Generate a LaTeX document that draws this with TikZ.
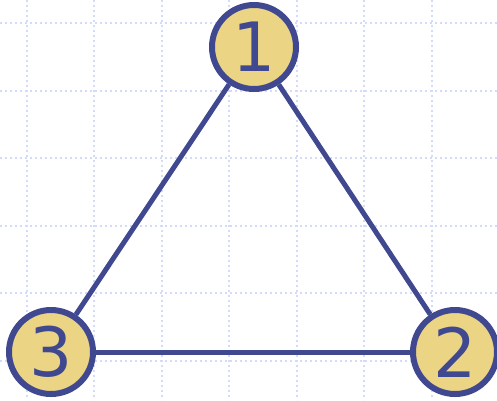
\documentclass[tikz,border=0pt]{standalone}
\usepackage{fontspec}
\setmainfont{DejaVu Sans}
\definecolor{edgeblue}{HTML}{404890}
\definecolor{nodefill}{HTML}{EBD585}
\definecolor{gridblue}{HTML}{D2DCFA}
\tikzset{
  vertex/.style={circle, draw=edgeblue, fill=nodefill, line width=6pt,
    minimum size=84pt, inner sep=0pt, text=edgeblue,
    font=\fontsize{68}{68}\selectfont},
  edge/.style={draw=edgeblue, line width=5pt},
  gridline/.style={draw=gridblue, line width=2pt, dash pattern=on 2pt off 3pt}
}
\begin{document}
\begin{tikzpicture}[x=1pt, y=-1pt]
  \useasboundingbox (0,0) rectangle (497,400);
  % background grid
  \foreach \gx in {26.5,94,161.5,229,296.5,364,431.5}
    \draw[gridline] (\gx,0) -- (\gx,400);
  \foreach \gy in {23,90.5,158,225.5,293,360.5}
    \draw[gridline] (0,\gy) -- (497,\gy);
  % vertices
  \node[vertex] (n1) at (254,47) {1};
  \node[vertex] (n2) at (455,352) {2};
  \node[vertex] (n3) at (51,352) {3};
  % edges
  \path[edge] (n1) -- (n2);
  \path[edge] (n1) -- (n3);
  \path[edge] (n3) -- (n2);
\end{tikzpicture}
\end{document}
